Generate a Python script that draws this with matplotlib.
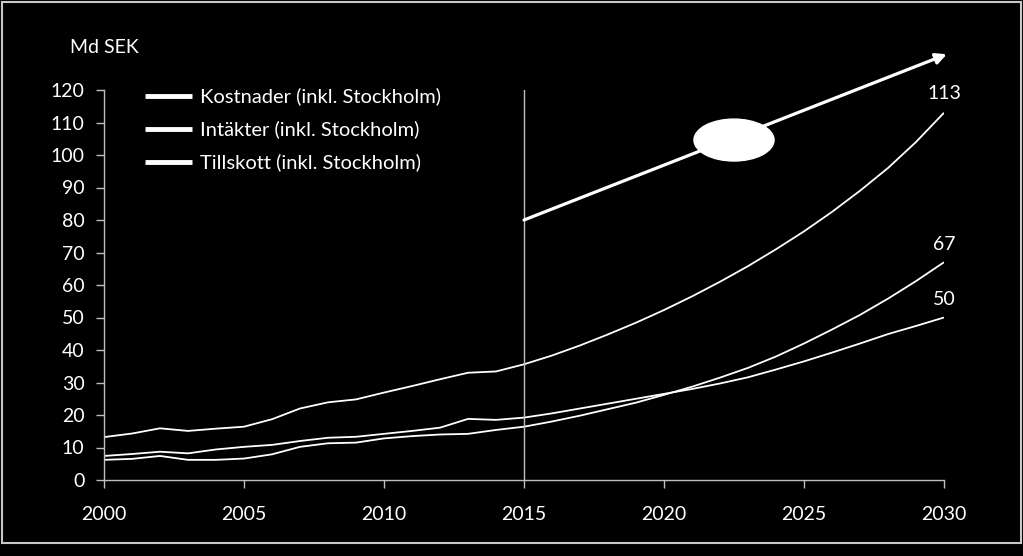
import matplotlib
matplotlib.use("Agg")
import matplotlib.pyplot as plt
from matplotlib.patches import Ellipse, Rectangle

plt.rcParams['font.family'] = ['Lato', 'DejaVu Sans']

years_hist = [2000, 2001, 2002, 2003, 2004, 2005, 2006, 2007, 2008, 2009, 2010,
              2011, 2012, 2013, 2014, 2015]
kost_hist = [13.2, 14.3, 15.9, 15.1, 15.8, 16.4, 18.7, 22.0, 23.9, 24.8, 26.9,
             28.9, 31.0, 33.0, 33.4, 35.6]
intak_hist = [7.4, 8.0, 8.7, 8.2, 9.4, 10.2, 10.8, 12.0, 13.0, 13.3, 14.2,
              15.1, 16.1, 18.8, 18.5, 19.2]
tills_hist = [6.2, 6.5, 7.4, 6.2, 6.2, 6.6, 7.9, 10.2, 11.3, 11.5, 12.8,
              13.5, 14.0, 14.2, 15.4, 16.4]

years_proj = [2016, 2017, 2018, 2019, 2020, 2021, 2022, 2023, 2024, 2025,
              2026, 2027, 2028, 2029, 2030]
kost_proj = [38.3, 41.4, 44.8, 48.4, 52.3, 56.5, 61.0, 65.8, 71.0, 76.5,
             82.5, 89.0, 96.0, 104.0, 113.0]
intak_proj = [20.5, 22.0, 23.5, 25.0, 26.5, 28.0, 29.7, 31.6, 34.0, 36.5,
              39.2, 42.0, 44.9, 47.4, 50.0]
tills_proj = [18.0, 19.8, 21.8, 23.8, 26.2, 28.7, 31.5, 34.5, 38.0, 42.0,
              46.3, 50.8, 55.8, 61.2, 67.0]

series_labels = ["Kostnader (inkl. Stockholm)", "Intäkter (inkl. Stockholm)",
                 "Tillskott (inkl. Stockholm)"]
end_labels = ["113", "50", "67"]

years = years_hist + years_proj
series = [kost_hist + kost_proj, intak_hist + intak_proj, tills_hist + tills_proj]

fig = plt.figure(figsize=(10.23, 5.56), dpi=100, facecolor='black')
ax = fig.add_axes([104/1023, 76/556, (944-104)/1023, 390/556])
ax.set_facecolor('black')

for vals in series:
    ax.plot(years, vals, color='white', lw=1.3, solid_capstyle='butt')

ax.set_xlim(2000, 2030)
ax.set_ylim(0, 120)
ax.set_xticks(range(2000, 2031, 5))
ax.set_yticks(range(0, 121, 10))
for s in ['top', 'right']:
    ax.spines[s].set_visible(False)
for s in ['left', 'bottom']:
    ax.spines[s].set_color('#bfbfbf')
    ax.spines[s].set_linewidth(1.0)
ax.tick_params(axis='both', colors='#bfbfbf', labelcolor='white', labelsize=14,
               length=6, width=1.0, direction='out')
ax.tick_params(axis='x', pad=13)
ax.tick_params(axis='y', pad=8)

ax.axvline(2015, ymin=0, ymax=1, color='#bfbfbf', lw=1.0)

# legend (manual, white lines)
leg_y = [0.985, 0.90, 0.815]
for lab, yy in zip(series_labels, leg_y):
    ax.plot([0.049, 0.105], [yy, yy], transform=ax.transAxes, color='white',
            lw=3.5, solid_capstyle='butt', clip_on=False)
    ax.text(0.114, yy, lab, transform=ax.transAxes, color='white', fontsize=14.5,
            va='center', ha='left')

ax.text(-0.041, 1.11, "Md SEK", transform=ax.transAxes, color='white', fontsize=14,
        ha='left', va='center')

# end labels
ax.annotate(end_labels[0], (2030, series[0][-1]), xytext=(0, 8),
            textcoords='offset points', color='white', fontsize=14, ha='center',
            va='bottom', annotation_clip=False)
ax.annotate(end_labels[2], (2030, series[2][-1]), xytext=(0, 7),
            textcoords='offset points', color='white', fontsize=14, ha='center',
            va='bottom', annotation_clip=False)
ax.annotate(end_labels[1], (2030, series[1][-1]), xytext=(0, 7),
            textcoords='offset points', color='white', fontsize=14, ha='center',
            va='bottom', annotation_clip=False)

# arrow
ax.annotate("", xy=(2030.1, 131), xytext=(2015, 80),
            arrowprops=dict(arrowstyle='-|>', color='white', lw=2.3,
                            mutation_scale=16, shrinkA=0, shrinkB=0),
            annotation_clip=False)
ax.add_patch(Ellipse((2022.5, 104.6), 2.86, 12.9, facecolor='white',
                     edgecolor='white', clip_on=False, zorder=5))

# frame
fig.patches.append(Rectangle((1.5/1023, (556-543)/556), 1019/1023, 541.5/556,
                             transform=fig.transFigure, fill=False,
                             edgecolor='#c8c8c8', lw=1.5))

fig.savefig("out.png", dpi=100, facecolor='black')
